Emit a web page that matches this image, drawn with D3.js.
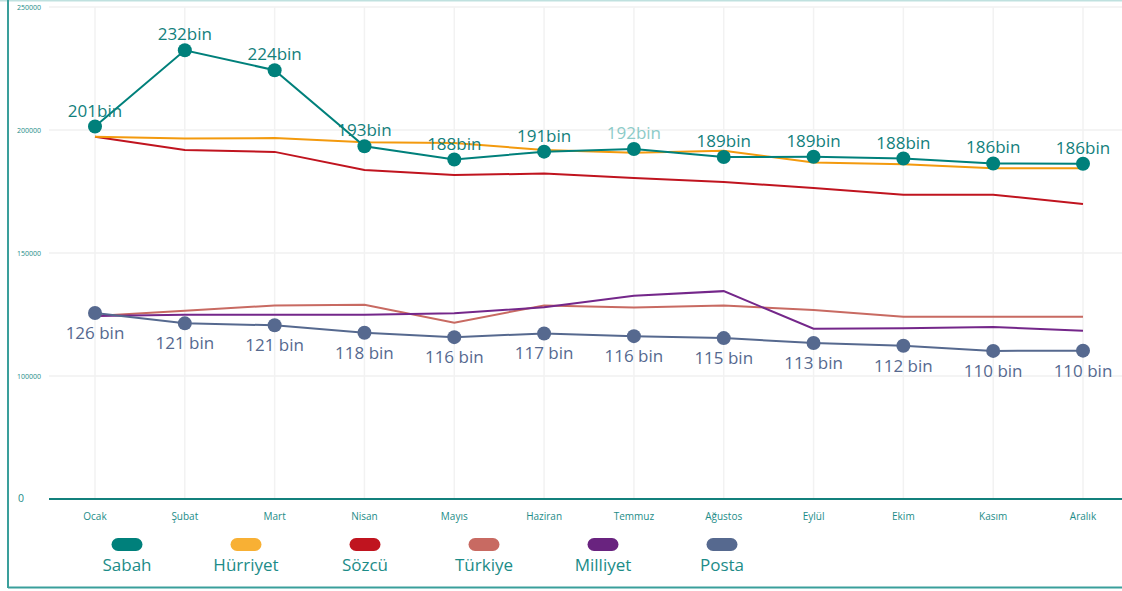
<!DOCTYPE html>
<html><head><meta charset="utf-8">
<script src="https://cdn.jsdelivr.net/npm/d3@7"></script>
<style>body{margin:0;background:#fff}svg{display:block}</style>
</head><body>
<svg id="c" width="1122" height="591"></svg>
<script>
const months = ["Ocak","Şubat","Mart","Nisan","Mayıs","Haziran","Temmuz","Ağustos","Eylül","Ekim","Kasım","Aralık"];
const sabah    = [201400,232400,224300,193400,188000,191200,192300,189000,189100,188400,186400,186300];
const hurriyet = [197300,196500,196700,195000,194700,191900,190800,191600,186800,186100,184500,184500];
const sozcu    = [197300,191900,191100,183700,181700,182300,180500,178900,176400,173700,173700,169900];
const turkiye  = [124400,126500,128700,129000,121700,128700,127800,128700,126800,124100,124100,124100];
const milliyet = [124400,124900,124900,124900,125500,127900,132600,134500,119200,119400,119900,118400];
const posta    = [125600,121400,120600,117600,115800,117300,116200,115400,113400,112300,110200,110300];
const seriesNames = ["Sabah","Hürriyet","Sözcü","Türkiye","Milliyet","Posta"];
const seriesColors = ["#00807B","#F39A0E","#C0141F","#C86A62","#74278A","#56698F"];
const legendColors = ["#00807B","#F8B034","#C0141F","#C86A62","#69237F","#56698F"];
const yTickValues = [50000,100000,150000,200000,250000];
const yTickLabels = ["0","100000","150000","200000","250000"];

const seriesData = [sabah,hurriyet,sozcu,turkiye,milliyet,posta];
const svg = d3.select("#c");
const teal = "#1C8C88";
const x = d3.scalePoint().domain(months).range([95,1083]);
const y = d3.scaleLinear().domain([50000,250000]).range([499,7]);

// frame
svg.append("line").attr("x1",0).attr("x2",1122).attr("y1",0.5).attr("y2",0.5).attr("stroke","#bfe1df").attr("stroke-width",2);
svg.append("line").attr("x1",8).attr("x2",8).attr("y1",0).attr("y2",588).attr("stroke","#3a9f9b").attr("stroke-width",2);
svg.append("line").attr("x1",8).attr("x2",1122).attr("y1",587.5).attr("y2",587.5).attr("stroke","#3a9f9b").attr("stroke-width",2);

// gridlines
svg.append("g").selectAll("line").data(yTickValues.slice(1)).join("line")
  .attr("x1",49).attr("x2",1122).attr("y1",d=>y(d)).attr("y2",d=>y(d))
  .attr("stroke","#f0f0f0").attr("stroke-width",1.5);
svg.append("g").selectAll("line").data(months).join("line")
  .attr("x1",d=>x(d)).attr("x2",d=>x(d)).attr("y1",y(250000)).attr("y2",y(50000))
  .attr("stroke","#f2f2f2").attr("stroke-width",1.5);

// y labels
svg.append("g").selectAll("text").data(yTickValues).join("text")
  .attr("x",(d,i)=> i===0 ? 24 : 41)
  .attr("y",d=>y(d)+ (d===50000?3:2.5))
  .attr("text-anchor","end")
  .attr("font-family","Open Sans, sans-serif")
  .attr("font-size",(d,i)=> i===0 ? 10.5 : 7)
  .attr("fill",teal)
  .text((d,i)=>yTickLabels[i]);

// x axis
svg.append("line").attr("x1",49).attr("x2",1122).attr("y1",y(50000)).attr("y2",y(50000)).attr("stroke","#13807C").attr("stroke-width",2);
svg.append("g").selectAll("text").data(months).join("text")
  .attr("x",d=>x(d)).attr("y",520)
  .attr("text-anchor","middle").attr("font-family","Open Sans, sans-serif").attr("font-size",10)
  .attr("fill",teal).text(d=>d);

// lines
const line = d3.line().x((d,i)=>x(months[i])).y(d=>y(d));
const order = [3,4,2,1,0,5];
order.forEach(k=>{
  svg.append("path").datum(seriesData[k]).attr("d",line)
    .attr("fill","none").attr("stroke",seriesColors[k]).attr("stroke-width",2);
});

// dots
[0,5].forEach(k=>{
  svg.append("g").selectAll("circle").data(seriesData[k]).join("circle")
    .attr("cx",(d,i)=>x(months[i])).attr("cy",d=>y(d)).attr("r",7)
    .attr("fill",seriesColors[k]);
});

// labels
svg.append("g").selectAll("text").data(sabah).join("text")
  .attr("x",(d,i)=>x(months[i])).attr("y",d=>y(d)-10)
  .attr("text-anchor","middle").attr("font-family","Open Sans, sans-serif").attr("font-size",17)
  .attr("fill",(d,i)=> months[i]==="Temmuz" ? "#8ccbc8" : "#12807C")
  .text(d=>Math.round(d/1000)+"bin");
svg.append("g").selectAll("text").data(posta).join("text")
  .attr("x",(d,i)=>x(months[i])).attr("y",d=>y(d)+26)
  .attr("text-anchor","middle").attr("font-family","Open Sans, sans-serif").attr("font-size",17)
  .attr("fill","#56698F")
  .text(d=>Math.round(d/1000)+" bin");

// legend
const legX = d3.scalePoint().domain(seriesNames).range([127,722]);
const lg = svg.append("g").selectAll("g").data(seriesNames).join("g")
  .attr("transform",d=>`translate(${legX(d)},0)`);
lg.append("rect").attr("x",-15.5).attr("y",538).attr("width",31).attr("height",13).attr("rx",6.5)
  .attr("fill",(d,i)=>legendColors[i]);
lg.append("text").attr("x",0).attr("y",571).attr("text-anchor","middle")
  .attr("font-family","Open Sans, sans-serif").attr("font-size",17).attr("fill",teal).text(d=>d);
</script>
</body></html>
